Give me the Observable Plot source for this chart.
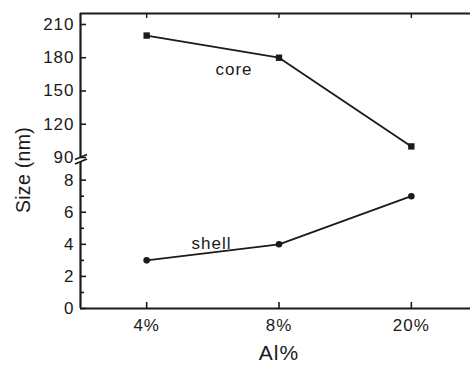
<!DOCTYPE html>
<html>
<head>
<meta charset="utf-8">
<script src="https://cdn.jsdelivr.net/npm/d3@7"></script>
<script src="https://cdn.jsdelivr.net/npm/@observablehq/plot@0.6"></script>
<style>
  html, body { margin: 0; padding: 0; background: #fff; }
  #chart { position: relative; width: 470px; height: 365px; overflow: hidden;
           font-family: "Liberation Sans", Arial, Helvetica, sans-serif; color: #1a1a1a; }
  #top, #bottom, #brk, #ylab { position: absolute; left: 0; }
  #top { top: 0; }
  #bottom { top: 160px; }
  #ylab { left: 22.5px; top: 170px; transform: translate(-50%, -50%) rotate(-90deg);
          font-size: 19.5px; white-space: nowrap; letter-spacing: 0.3px; }
  #brk { top: 0; }
</style>
</head>
<body>
<div id="chart">
  <div id="top"></div>
  <div id="bottom"></div>
  <svg id="brk" width="100" height="200">
    <line x1="75" y1="159.5" x2="87" y2="154.5" stroke="#1a1a1a" stroke-width="1.8"/>
    <line x1="75" y1="164" x2="87" y2="159" stroke="#1a1a1a" stroke-width="1.8"/>
  </svg>
  <div id="ylab">Size (nm)</div>
</div>
<script>
const categories = ["4%", "8%", "20%"];
const coreSize = [200, 180, 100];
const shellSize = [3, 4, 7];
const topTicks = [90, 120, 150, 180, 210];
const bottomTicks = [0, 2, 4, 6, 8];
const bottomMinorTicks = [1, 3, 5, 7];

const idx = categories.map((c, i) => i);
const core = categories.map((c, i) => ({i, c, v: coreSize[i]}));
const shell = categories.map((c, i) => ({i, c, v: shellSize[i]}));

const font = '"Liberation Sans", Arial, Helvetica, sans-serif';
const ink = "#1a1a1a";
const xScale = {type: "linear", domain: [-0.5, 2.5], range: [80, 477], axis: null};
const svgStyle = {fontFamily: font, fontSize: "17px", color: ink, background: "transparent",
                  overflow: "visible", letterSpacing: "1px"};

const topPlot = Plot.plot({
  width: 470, height: 158,
  marginTop: 13, marginBottom: 0, marginLeft: 80, marginRight: 0,
  style: svgStyle,
  x: xScale,
  y: {domain: [89.1, 219.9], axis: null, label: null},
  marks: [
    Plot.axisY(topTicks, {tickSize: 0, tickPadding: 6, fontSize: 17, label: null}),
    Plot.tickY(topTicks, {y: d => d, insetRight: 384, strokeWidth: 1.6, stroke: ink}),
    Plot.tickX(idx, {x: d => d, insetBottom: 140, strokeWidth: 1.4, stroke: ink}),
    Plot.ruleX([-0.5], {strokeWidth: 2.2, stroke: ink}),
    Plot.ruleY([219.9], {strokeWidth: 2.2, stroke: ink}),
    Plot.line(core, {x: "i", y: "v", strokeWidth: 1.8, stroke: ink}),
    Plot.dot(core, {x: "i", y: "v", symbol: "square", fill: ink, r: 3.6}),
    Plot.text(["core"], {x: () => 0.66, y: () => 169.2, fontSize: 17, fill: ink})
  ]
});
document.getElementById("top").appendChild(topPlot);

const bottomPlot = Plot.plot({
  width: 470, height: 205,
  marginTop: 2, marginBottom: 57, marginLeft: 80, marginRight: 0,
  style: svgStyle,
  x: xScale,
  y: {domain: [0, 9.1], axis: null, label: null},
  marks: [
    Plot.axisY(bottomTicks, {tickSize: 0, tickPadding: 6, fontSize: 17, label: null}),
    Plot.tickY(bottomTicks, {y: d => d, insetRight: 384, strokeWidth: 1.6, stroke: ink}),
    Plot.tickY(bottomMinorTicks, {y: d => d, insetRight: 386, strokeWidth: 1.6, stroke: ink}),
    Plot.axisX(idx, {tickSize: 0, tickPadding: 10, fontSize: 17, tickFormat: i => categories[i], label: null}),
    Plot.tickX(idx, {x: d => d, insetTop: 140, strokeWidth: 1.6, stroke: ink}),
    Plot.ruleX([-0.5], {strokeWidth: 2.2, stroke: ink}),
    Plot.ruleY([0], {strokeWidth: 2.2, stroke: ink}),
    Plot.line(shell, {x: "i", y: "v", strokeWidth: 1.8, stroke: ink}),
    Plot.dot(shell, {x: "i", y: "v", symbol: "circle", fill: ink, r: 3.3}),
    Plot.text(["shell"], {x: () => 0.49, y: () => 4.03, fontSize: 17, fill: ink}),
    Plot.text(["Al%"], {x: () => 1, frameAnchor: "bottom", dy: 51, fontSize: 21, fill: ink})
  ]
});
document.getElementById("bottom").appendChild(bottomPlot);
</script>
</body>
</html>
